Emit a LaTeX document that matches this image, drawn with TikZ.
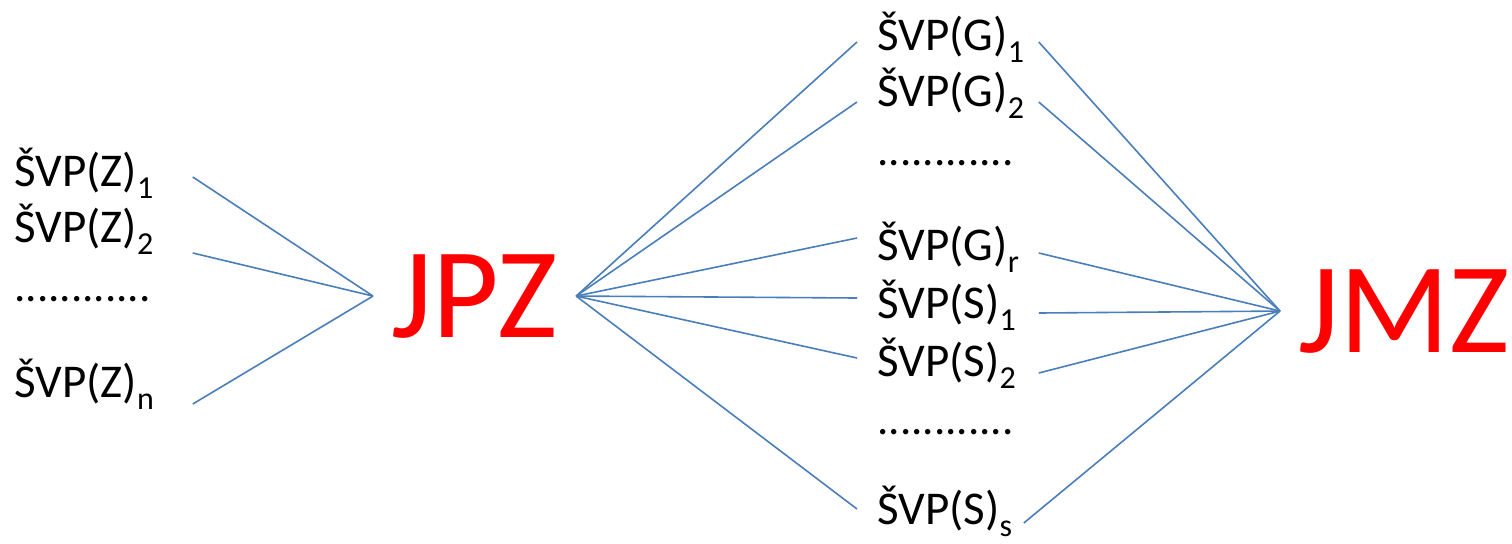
\documentclass[tikz,border=0pt]{standalone}
\usepackage{fontspec}
\setmainfont{Carlito}
\definecolor{linkblue}{HTML}{4A7EBB}
\newcommand{\subidx}[1]{\raisebox{-0.27em}{\fontsize{16}{16}\selectfont #1}}

\begin{document}
\begin{tikzpicture}[x=0.5pt, y=-0.5pt]

	\tikzstyle{lbl}=[anchor=base west, inner sep=0pt, align=left, font=\fontsize{23.5}{27}\selectfont]
	\tikzstyle{zlbl}=[lbl, text width=89pt]
	\tikzstyle{mlbl}=[lbl, text width=80.5pt]
	\tikzstyle{dotrow}=[lbl, font=\fontsize{22.5}{27}\selectfont]
	\tikzstyle{big}=[anchor=base west, inner xsep=9pt, inner ysep=0pt, text=red, font=\fontsize{64.5}{70}\selectfont]
	\tikzstyle{link}=[draw=linkblue, line width=0.8pt]

	\useasboundingbox (0,0) rectangle (1512,543);

	% left column
	\node[zlbl] (z1) at (14,186) {ŠVP(Z)\subidx{1}};
	\node[zlbl] (z2) at (14,242) {ŠVP(Z)\subidx{2}};
	\node[dotrow] (zdots) at (14,301) {............};
	\node[zlbl] (zn) at (14,397) {ŠVP(Z)\subidx{n}};

	% the two targets
	\node[big] (jpz) at (373,337) {JPZ};
	\node[big] (jmz) at (1280,352) {JMZ};

	% middle column
	\node[mlbl] (g1) at (877,50) {ŠVP(G)\subidx{1}};
	\node[mlbl] (g2) at (877,106) {ŠVP(G)\subidx{2}};
	\node[dotrow] (gdots) at (877,165) {............};
	\node[mlbl] (gr) at (877,260) {ŠVP(G)\subidx{r}};
	\node[mlbl] (s1) at (877,318) {ŠVP(S)\subidx{1}};
	\node[mlbl] (s2) at (877,376) {ŠVP(S)\subidx{2}};
	\node[dotrow] (sdots) at (877,434) {............};
	\node[mlbl] (ss) at (877,524) {ŠVP(S)\subidx{s}};

	\draw[link] ([shift={(0,-9)}]z1.base east) -- (jpz.west);
	\draw[link] ([shift={(0,11)}]z2.base east) -- (jpz.west);
	\draw[link] ([shift={(0,7)}]zn.base east) -- (jpz.west);

	\draw[link] (jpz.east) -- ([shift={(-20,-8)}]g1.base west);
	\draw[link] (jpz.east) -- ([shift={(-20,-4)}]g2.base west);
	\draw[link] (jpz.east) -- ([shift={(-20,-22)}]gr.base west);
	\draw[link] (jpz.east) -- ([shift={(-20,-20)}]s1.base west);
	\draw[link] (jpz.east) -- ([shift={(-20,-18)}]s2.base west);
	\draw[link] (jpz.east) -- ([shift={(-20,-15)}]ss.base west);

	\draw[link] ([shift={(0,-8)}]g1.base east) -- (jmz.west);
	\draw[link] ([shift={(0,-4)}]g2.base east) -- (jmz.west);
	\draw[link] ([shift={(0,-7)}]gr.base east) -- (jmz.west);
	\draw[link] ([shift={(0,-5)}]s1.base east) -- (jmz.west);
	\draw[link] ([shift={(0,-3)}]s2.base east) -- (jmz.west);
	\draw[link] ([shift={(-15,-1)}]ss.base east) -- (jmz.west);

\end{tikzpicture}
\end{document}
